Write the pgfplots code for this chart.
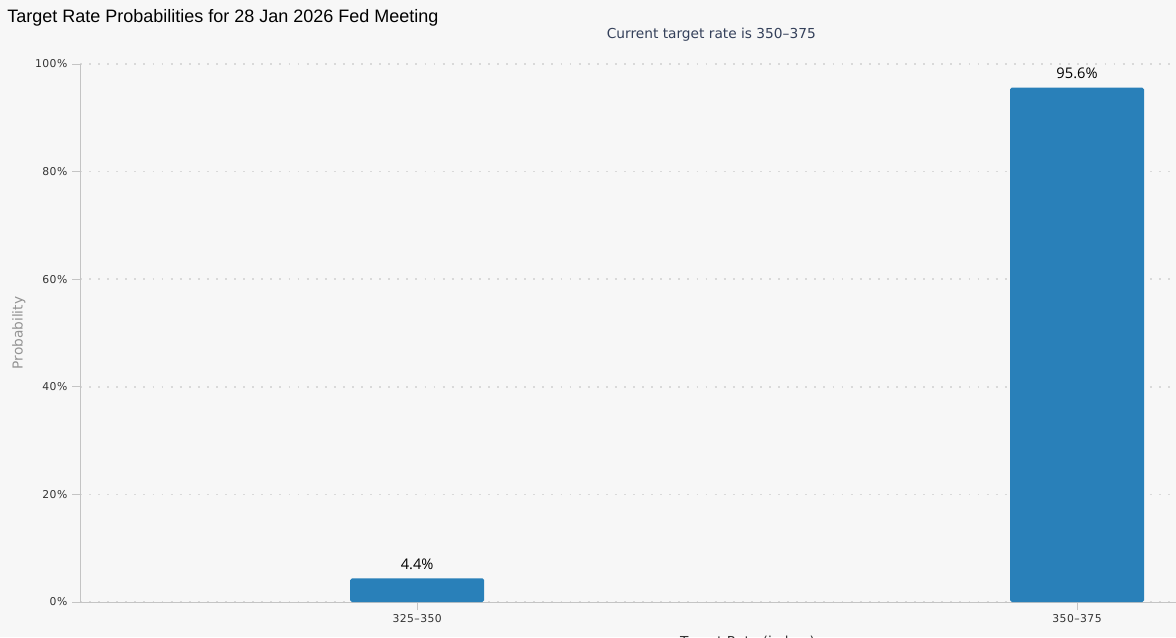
\documentclass[border=0pt]{standalone}
\usepackage{fontspec}
\setmainfont{Open Sans}
\newfontfamily\arialfont{Liberation Sans}
\newfontfamily\verdfont{DejaVu Sans}
\newfontfamily\tickfont{DejaVu Sans}[LetterSpace=4]
\usepackage{pgfplots}
\pgfplotsset{compat=1.18}

\definecolor{bgcol}{HTML}{F7F7F7}
\definecolor{barblue}{HTML}{2980B9}
\definecolor{axisgray}{HTML}{C4C4C4}
\definecolor{gridgray}{HTML}{D9D9D9}
\definecolor{ticktext}{HTML}{333333}
\definecolor{subtext}{HTML}{34405A}

\begin{document}
\begin{tikzpicture}
% 1 px of the reference = 0.75pt
\fill[bgcol] (0,0) rectangle (882pt,477.75pt);
\useasboundingbox (0,0) rectangle (882pt,477.75pt);

\node[anchor=base west, font=\arialfont\fontsize{13.5}{15}\selectfont, text=black, inner sep=0pt]
  at (5.25pt,460.5pt) {Target Rate Probabilities for 28 Jan 2026 Fed Meeting};

\begin{axis}[
    at={(60pt,26.25pt)}, anchor=south west,
    scale only axis,
    width=822pt, height=403.5pt,
    xmin=-0.511, xmax=1.15,
    ymin=0, ymax=100,
    axis x line=bottom, axis y line=left,
    axis line style={axisgray, -},
    axis background/.style={fill=bgcol},
    xtick={0,1},
    xticklabels={325–350,350–375},
    ytick={0,20,40,60,80,100},
    yticklabel={\pgfmathprintnumber{\tick}\%},
    /pgf/number format/assume math mode=true,
    tick align=outside,
    major tick length=6pt,
    tick style={axisgray, line width=0.6pt},
    ticklabel style={font=\tickfont\fontsize{8.1}{9}\selectfont, text=ticktext},
    ymajorgrids,
    grid style={gridgray, line width=1.2pt, dash pattern=on 1.4pt off 5.4pt},
    title={Current target rate is 350–375},
    title style={at={(axis description cs:0.576,1.039)}, anchor=center,
                 font=\verdfont\fontsize{10.3}{12}\selectfont, text=subtext},
    ylabel={Probability},
    ylabel style={at={(axis description cs:-0.0557,0.5)}, anchor=center, rotate=0,
                  font=\verdfont\fontsize{10.3}{12}\selectfont, text=gray!85},
    xlabel={Target Rate (in bps)},
    xlabel style={at={(axis description cs:0.609,-0.0545)}, anchor=north,
                  font=\verdfont\fontsize{10.3}{12}\selectfont, text=ticktext},
    ybar,
    bar width=0.203,
    nodes near coords={\pgfmathprintnumber[fixed,precision=1]{\pgfplotspointmeta}\%},
    every node near coord/.append style={anchor=south, inner sep=0pt, yshift=6.5pt,
                 font=\fontsize{11}{13}\selectfont, text=black},
    clip=false,
]
\addplot[fill=barblue, draw=none, rounded corners=1.3pt] coordinates {
    (0,4.4)
    (1,95.6)
};
\end{axis}
\end{tikzpicture}
\end{document}
